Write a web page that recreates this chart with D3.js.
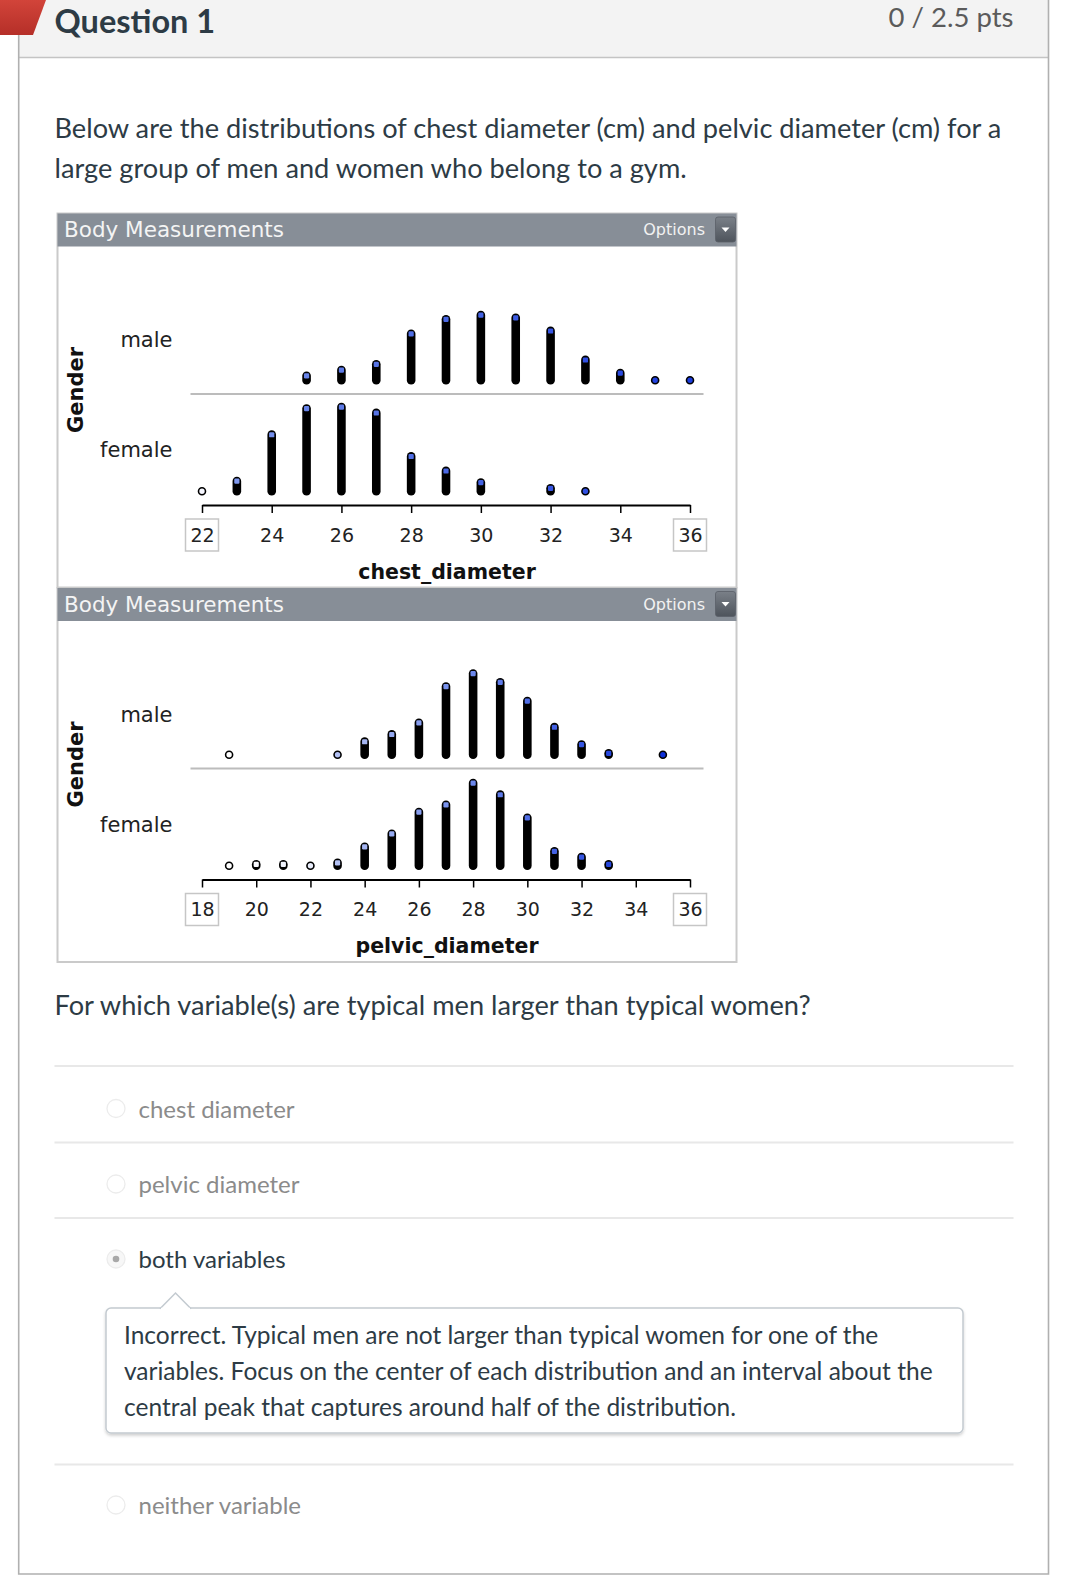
<!DOCTYPE html>
<html><head><meta charset="utf-8">
<script src="https://cdn.jsdelivr.net/npm/d3@7"></script>
<style>
html,body{margin:0;padding:0;background:#fff;}
svg{display:block;}
</style></head><body>
<svg id="page" width="1070" height="1582"></svg>
<script>
// ---------- DATA ----------
const groups = ["male", "female"];

const chestValues = [22,23,24,25,26,27,28,29,30,31,32,33,34,35,36];
const chestMale   = [0,0,0,4,8,12,33,43,46,44,35,15,6,1,1];
const chestFemale = [1,8,40,58,59,55,25,15,7,0,3,1,0,0,0];
const chestTicks  = [22,24,26,28,30,32,34,36];

const pelvicValues = [18,19,20,21,22,23,24,25,26,27,28,29,30,31,32,33,34,35,36];
const pelvicMale   = [0,1,0,0,0,1,10,15,23,48,57,51,38,20,8,2,0,1,0];
const pelvicFemale = [0,1,2,2,1,3,14,23,38,43,58,50,34,11,7,2,0,0,0];
const pelvicTicks  = [18,20,22,24,26,28,30,32,34,36];

const panelTitle = "Body Measurements";
const groupVar = "Gender";
const questionLines = [
  "Below are the distributions of chest diameter (cm) and pelvic diameter (cm) for a",
  "large group of men and women who belong to a gym."
];
const promptText = "For which variable(s) are typical men larger than typical women?";
const answers = ["chest diameter", "pelvic diameter", "both variables", "neither variable"];
const feedbackLines = [
  "Incorrect. Typical men are not larger than typical women for one of the",
  "variables. Focus on the center of each distribution and an interval about the",
  "central peak that captures around half of the distribution."
];

// ---------- PAGE ----------
const svg = d3.select("#page");
const defs = svg.append("defs");
const btnGrad = defs.append("linearGradient").attr("id","btnGrad").attr("x1",0).attr("y1",0).attr("x2",0).attr("y2",1);
btnGrad.append("stop").attr("offset","0%").attr("stop-color","#7a8088");
btnGrad.append("stop").attr("offset","100%").attr("stop-color","#4e545c");
const flagGrad = defs.append("linearGradient").attr("id","flagGrad").attr("x1",0).attr("y1",0).attr("x2",0).attr("y2",1);
flagGrad.append("stop").attr("offset","0%").attr("stop-color","#d2443a");
flagGrad.append("stop").attr("offset","100%").attr("stop-color","#b52f28");
const shadow = defs.append("filter").attr("id","fbShadow").attr("x","-5%").attr("y","-10%").attr("width","110%").attr("height","130%");
shadow.append("feDropShadow").attr("dx",0).attr("dy",2).attr("stdDeviation",1.5).attr("flood-color","#000").attr("flood-opacity",0.18);

svg.append("rect").attr("width",1070).attr("height",1582).attr("fill","#fff");

// question box
svg.append("rect").attr("x",18.5).attr("y",-2).attr("width",1030).attr("height",59.5).attr("fill","#f3f3f3");
svg.append("line").attr("x1",18.5).attr("x2",1048.5).attr("y1",57.5).attr("y2",57.5).attr("stroke","#c4c4c4").attr("stroke-width",1.5);
svg.append("path").attr("d","M18.7,0V1574H1048.5V0").attr("fill","none").attr("stroke","#b0b0b0").attr("stroke-width",1.6);
svg.append("polygon").attr("points","0,0 46,0 33,35 0,35").attr("fill","url(#flagGrad)");

const lato = "Lato, 'Open Sans', sans-serif";
svg.append("text").attr("x",54.5).attr("y",32.5).attr("font-family",lato).attr("font-weight",700)
  .attr("font-size",32.5).attr("fill","#2d3b45").text("Question 1");
svg.append("text").attr("x",1013.5).attr("y",26.5).attr("text-anchor","end").attr("font-family",lato)
  .attr("font-size",27.5).attr("fill","#5b5b5b").text("0 / 2.5 pts");

svg.selectAll("text.q").data(questionLines).join("text").attr("class","q")
  .attr("x",54.5).attr("y",(d,i)=>137.5 + i*40.4).attr("font-family",lato).attr("font-size",27.2)
  .attr("fill","#2d3b45").text(d=>d);

// ---------- CHART PANELS ----------
const chestColor = d3.scaleLinear().domain([22,23,26,36]).range(["#f6f7ff","#7f98ee","#5d7ae6","#1c3ddf"]);
const pelvicColor = d3.scaleLinear().domain([19,22,23,28,35]).range(["#ffffff","#e9edfb","#b3c1f4","#6b87ec","#0d2fd8"]);

const panels = [
  {variable:"chest_diameter", values:chestValues, counts:[chestMale, chestFemale], ticks:chestTicks, color:chestColor, top:213.5},
  {variable:"pelvic_diameter", values:pelvicValues, counts:[pelvicMale, pelvicFemale], ticks:pelvicTicks, color:pelvicColor, top:588}
];

const chartFont = "'DejaVu Sans', Verdana, sans-serif";
const L = 57.5, R = 736.5;
const DOT = 8.6;
const stack = d3.scaleLinear().domain([0, 60]).range([0, 87]);

panels.forEach(p => {
  const g = svg.append("g");
  const top = p.top;
  g.append("rect").attr("x",L).attr("y",top).attr("width",R-L).attr("height",374)
    .attr("fill","#fff").attr("stroke","#cacaca").attr("stroke-width",2);
  g.append("rect").attr("x",L).attr("y",top).attr("width",R-L).attr("height",33).attr("fill","#878e97");
  g.append("text").attr("x",64).attr("y",top+23.5).attr("font-family",chartFont).attr("font-size",21.5)
    .attr("fill","#f4f4f4").text(panelTitle);
  g.append("text").attr("x",705).attr("y",top+21.5).attr("text-anchor","end").attr("font-family",chartFont)
    .attr("font-size",16).attr("fill","#f2f2f2").text("Options");
  g.append("rect").attr("x",715.5).attr("y",top+3.5).attr("width",20).attr("height",25).attr("rx",2.5)
    .attr("fill","url(#btnGrad)").attr("stroke","#5a6068").attr("stroke-width",0.8);
  g.append("path").attr("d",`M721.5,${top+14}h8l-4,4.5z`).attr("fill","#fff");

  const x = d3.scaleLinear().domain([p.ticks[0], p.ticks[p.ticks.length-1]]).range([202, 690]);
  const base = [top+171, top+282];
  const labelY = [top+126, top+236];

  // separator
  g.append("line").attr("x1",190.5).attr("x2",703.5).attr("y1",top+180.5).attr("y2",top+180.5)
    .attr("stroke","#bcbcbc").attr("stroke-width",2);

  // group labels
  g.selectAll("text.grp").data(groups).join("text").attr("class","grp")
    .attr("x",172.5).attr("y",(d,i)=>labelY[i]+7.5).attr("text-anchor","end")
    .attr("font-family",chartFont).attr("font-size",21).attr("fill","#222").text(d=>d);
  g.append("text").attr("transform",`translate(82.5,${top+176.5}) rotate(-90)`).attr("text-anchor","middle")
    .attr("font-family",chartFont).attr("font-weight","bold").attr("font-size",21).attr("fill","#111").text(groupVar);

  // dot stacks
  groups.forEach((grp, gi) => {
    const rows = p.values.map((v,i)=>({v, n:p.counts[gi][i]})).filter(d=>d.n>0);
    const sg = g.append("g");
    rows.forEach(d => {
      const cx = x(d.v);
      if (d.n === 1) {
        sg.append("circle").attr("cx",cx).attr("cy",base[gi]-DOT/2).attr("r",DOT/2-0.8)
          .attr("fill",p.color(d.v)).attr("stroke","#000").attr("stroke-width",1.6);
      } else {
        const h = DOT + stack(d.n-1);
        sg.append("rect").attr("x",cx-DOT/2).attr("y",base[gi]-h).attr("width",DOT).attr("height",h)
          .attr("rx",DOT/2).attr("fill","#000");
        sg.append("rect").attr("x",cx-2.6).attr("y",base[gi]-h+1.8).attr("width",5.2).attr("height",5.2)
          .attr("rx",1.2).attr("fill",p.color(d.v));
      }
    });
  });

  // axis
  const ag = g.append("g").attr("transform",`translate(0,${top+291.5})`)
    .call(d3.axisBottom(x).tickValues(p.ticks).tickSize(8).tickSizeOuter(0).tickFormat(d3.format("d")));
  ag.select(".domain").attr("stroke","#000").attr("stroke-width",2);
  ag.selectAll(".tick line").attr("stroke","#000").attr("stroke-width",1.5);
  ag.selectAll(".tick text").attr("y",30).attr("dy","0.36em").attr("font-family",chartFont)
    .attr("font-size",19).attr("fill","#222");
  [p.ticks[0], p.ticks[p.ticks.length-1]].forEach(t=>{
    ag.append("rect").attr("x",x(t)-16.5).attr("y",14).attr("width",33).attr("height",32)
      .attr("fill","none").attr("stroke","#c6c6c6").attr("stroke-width",1.5);
  });
  g.append("text").attr("x",447).attr("y",top+365).attr("text-anchor","middle").attr("font-family",chartFont)
    .attr("font-weight","bold").attr("font-size",20.5).attr("fill","#111").text(p.variable);
});

// ---------- QUESTION / ANSWERS ----------
svg.append("text").attr("x",54.5).attr("y",1015).attr("font-family",lato).attr("font-size",27.2)
  .attr("fill","#2d3b45").text(promptText);

[1066, 1142.5, 1218, 1464.5].forEach(y=>{
  svg.append("line").attr("x1",54.5).attr("x2",1013.5).attr("y1",y).attr("y2",y).attr("stroke","#e8e8e8").attr("stroke-width",2);
});

const answerY = [1109.5, 1185, 1260, 1506];
const selected = 2;
answers.forEach((a,i)=>{
  const y = answerY[i];
  svg.append("circle").attr("cx",116).attr("cy",y-1).attr("r",9).attr("fill",i===selected?"#f7f7f7":"#fff")
    .attr("stroke","#ececec").attr("stroke-width",1.3);
  if (i===selected) svg.append("circle").attr("cx",116).attr("cy",y-1).attr("r",3.3).attr("fill","#a8a8a8");
  svg.append("text").attr("x",138.5).attr("y",y+8).attr("font-family",lato).attr("font-size",24)
    .attr("fill", i===selected ? "#2d3b45" : "#8b8b8b").text(a);
});

// feedback box
svg.append("rect").attr("x",106).attr("y",1308).attr("width",857).attr("height",125).attr("rx",5)
  .attr("fill","#fff").attr("stroke","#c3cad0").attr("stroke-width",1.5).attr("filter","url(#fbShadow)");
svg.append("path").attr("d","M160,1308.8L175.5,1293L191,1308.8").attr("fill","#fff")
  .attr("stroke","#c3cad0").attr("stroke-width",1.5);
svg.append("line").attr("x1",161).attr("x2",190).attr("y1",1308.8).attr("y2",1308.8).attr("stroke","#fff").attr("stroke-width",2);
svg.selectAll("text.fb").data(feedbackLines).join("text").attr("class","fb")
  .attr("x",124).attr("y",(d,i)=>1343.5 + i*36).attr("font-family",lato).attr("font-size",24.5)
  .attr("fill","#2d3b45").text(d=>d);
</script>
</body></html>
